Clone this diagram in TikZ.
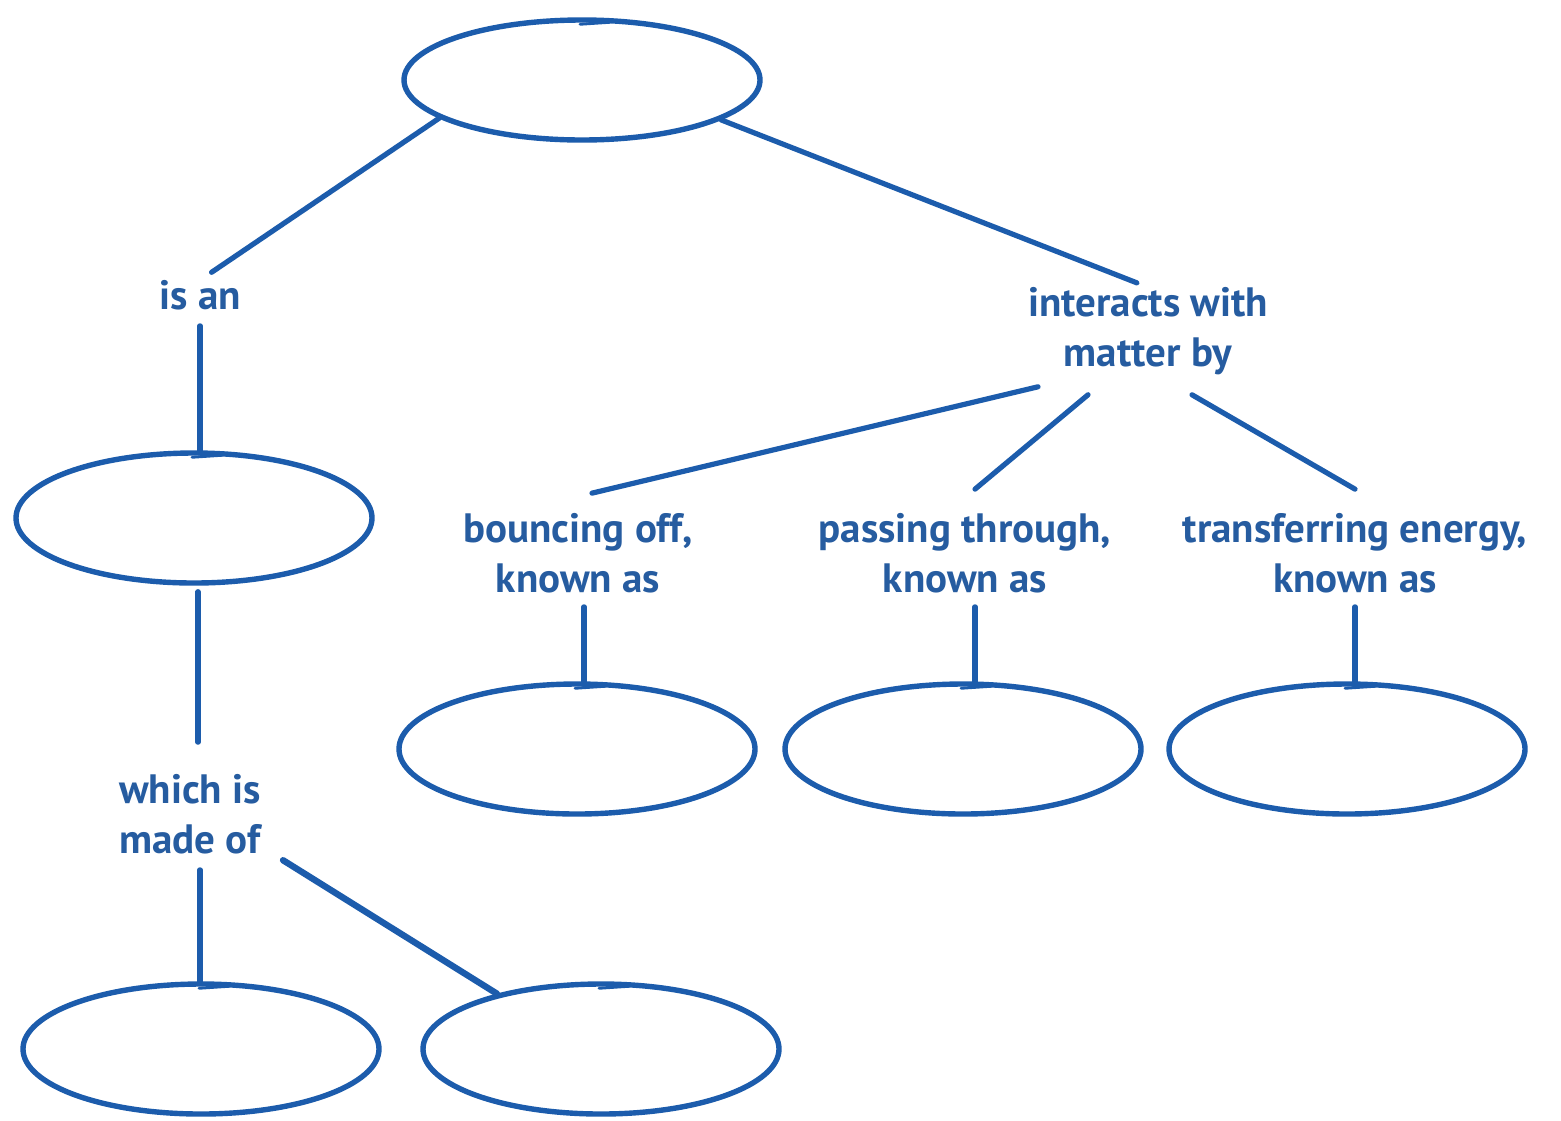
\documentclass[tikz,border=0pt]{standalone}
\usepackage{fontspec}
\setsansfont{PT Sans}
\usetikzlibrary{shapes.geometric,calc}
\definecolor{cblue}{RGB}{28,92,172}
\definecolor{tblue}{RGB}{38,92,160}
\begin{document}
\begin{tikzpicture}[x=0.5pt,y=-0.5pt,
  oval/.style={ellipse,draw=cblue,line width=2.7pt,minimum width=178pt,minimum height=65pt,inner sep=0pt},
  lbl/.style={text=tblue,font=\sffamily\bfseries\fontsize{20.5}{25}\selectfont,align=center,inner sep=0pt,outer sep=0pt},
  con/.style={draw=cblue,line width=2.6pt,line cap=round},
  tick/.style={draw=cblue,line width=1.4pt,line cap=round}]
\path[fill=white] (0,0) rectangle (1561,1120);
\useasboundingbox (0,0) rectangle (1561,1120);
% ovals
\node[oval,minimum height=60pt] (top) at (582,80) {};
\node[oval] (mid) at (194,518) {};
\node[oval] (bounce) at (577,749) {};
\node[oval] (pass) at (963,749) {};
\node[oval] (transfer) at (1347,749) {};
\node[oval] (botl) at (201,1049) {};
\node[oval] (botr) at (601,1049) {};
% pen overlap marks
\foreach \n in {top,mid,bounce,pass,transfer,botl,botr}
  \draw[tick] ([xshift=-1pt,yshift=-3.5pt]\n.north) -- ([xshift=14pt,yshift=-2.5pt]\n.north);
% labels
\node[lbl] (isan) at (200,295) {is an};
\node[lbl] (inter) at (1148,331) {interacts with\\matter by};
\node[lbl] (bo) at (578,553) {bouncing off,\\known as};
\node[lbl] (pa) at (965,553) {passing through,\\known as};
\node[lbl] (tr) at (1355,553) {transferring energy,\\known as};
\node[lbl] (which) at (190,814) {which is\\made of};
% connectors
\draw[con,shorten >=7pt] (top.195) -- (isan.north);
\draw[con,shorten >=6pt] (top.344) -- (inter.north);
\draw[con,shorten <=8pt] (isan.south) -- (isan.south |- mid.north);
\draw[con] ([xshift=5pt,yshift=-6pt]inter.south west) -- ([xshift=7pt,yshift=10pt]bo.north);
\draw[con] ([xshift=-30pt,yshift=-10pt]inter.south) -- ([xshift=5pt,yshift=12pt]pa.north);
\draw[con] ([xshift=22pt,yshift=-10pt]inter.south) -- ([yshift=12pt]tr.north);
\draw[con,shorten <=7pt] ([xshift=3pt]bo.south) -- ([xshift=3pt]bo.south |- bounce.north);
\draw[con,shorten <=7pt] ([xshift=5pt]pa.south) -- ([xshift=5pt]pa.south |- pass.north);
\draw[con,shorten <=7pt] (tr.south) -- (tr.south |- transfer.north);
\draw[con,shorten <=3pt,shorten >=16pt] ([xshift=4pt]which.north |- mid.south) -- ([xshift=4pt]which.north);
\draw[con,shorten <=8pt] ([xshift=5pt]which.south) -- ([xshift=5pt]which.south |- botl.north);
\draw[con,line width=3.2pt,shorten <=6pt] ([xshift=6pt]which.south east) -- (botr.152);
\end{tikzpicture}
\end{document}
